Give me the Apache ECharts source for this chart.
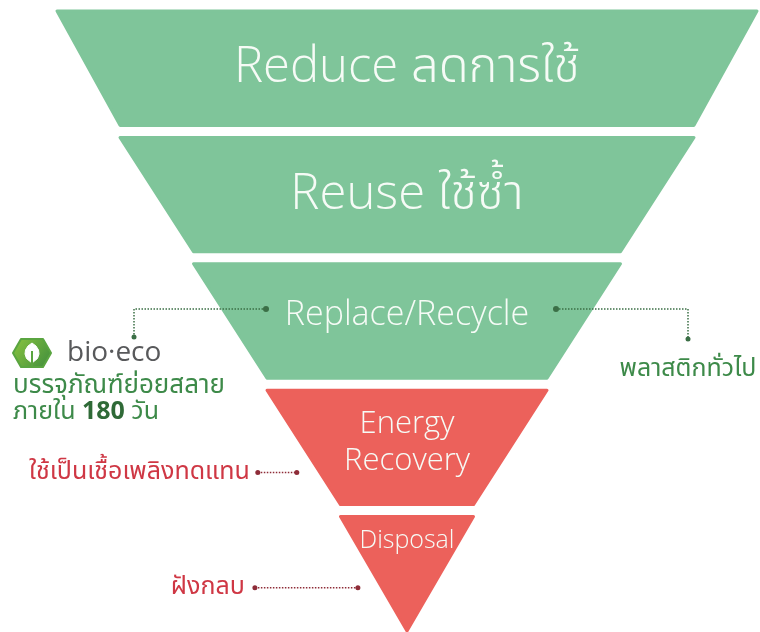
<!DOCTYPE html>
<html>
<head>
<meta charset="utf-8">
<script src="https://cdn.jsdelivr.net/npm/echarts@6/dist/echarts.min.js"></script>
<style>
  html, body { margin: 0; padding: 0; background: #ffffff; }
  #chart { width: 760px; height: 632px; }
</style>
</head>
<body>
<div id="chart"></div>
<script>
// ---- Data ----
var stages = ['Reduce ลดการใช้', 'Reuse ใช้ซ้ำ', 'Replace/Recycle', 'Energy\nRecovery', 'Disposal'];
var stageValues = [100, 82, 61, 40, 19];
var stageGroups = ['green', 'green', 'green', 'red', 'red'];
var bioBrand = 'bio·eco';
var bioLine1 = 'บรรจุภัณฑ์ย่อยสลาย';
var bioLine2a = 'ภายใน ';
var bioLine2b = '180';
var bioLine2c = ' วัน';
var plasticNote = 'พลาสติกทั่วไป';
var energyNote = 'ใช้เป็นเชื้อเพลิงทดแทน';
var disposalNote = 'ฝังกลบ';

// ---- Styles ----
var FONT = "'Open Sans', 'Noto Sans', 'Noto Sans Thai', 'Loma', 'Garuda', sans-serif";
var GREEN = '#7fc59a';
var RED = '#ec615b';
var labelSizes = [49, 49, 34, 31, 25];
var labelLH = [60, 60, 42, 37, 30];
var labelShift = [0, 0, 6, 5, 33];

var chart = echarts.init(document.getElementById('chart'), null, { renderer: 'canvas' });

var data = stages.map(function (name, i) {
  var col = stageGroups[i] === 'green' ? GREEN : RED;
  var lines = name.split('\n').map(function (s) { return '{t|' + s + '}'; }).join('\n');
  return {
    name: name,
    value: stageValues[i],
    itemStyle: { color: col, borderColor: col, borderWidth: 3, borderJoin: 'round' },
    label: {
      formatter: labelShift[i] ? lines + '\n{s| }' : lines,
      rich: {
        t: { fontSize: labelSizes[i], lineHeight: labelLH[i], color: '#f6fbf6', fontFamily: FONT, fontWeight: 300 },
        s: { fontSize: 2, height: labelShift[i] * 2, lineHeight: labelShift[i] * 2 }
      }
    }
  };
});

chart.setOption({
  backgroundColor: '#ffffff',
  animation: false,
  series: [{
    type: 'funnel',
    left: 57,
    top: 11,
    width: 700,
    height: 620,
    min: 0,
    max: 100,
    minSize: '0%',
    maxSize: '100%',
    sort: 'none',
    gap: 12,
    label: {
      show: true,
      position: 'inside',
      color: '#f6fbf6',
      fontFamily: FONT
    },
    labelLine: { show: false },
    emphasis: { disabled: true },
    data: data
  }]
});

// ---- Annotations derived from the funnel layout ----
var sData = chart.getModel().getSeriesByIndex(0).getData();
function pts(i) { return sData.getItemLayout(i).points; }
function leftEdgeX(i, y) {
  var p = pts(i); var a = p[0], b = p[3];
  return a[0] + (b[0] - a[0]) * (y - a[1]) / (b[1] - a[1]);
}
function midY(i) { var p = pts(i); return (p[0][1] + p[3][1]) / 2; }

var DG = '#3b6f46', DR = '#8e2c38';
var TG = '#3d8a49', TR = '#cf3744';
var g = [];

function dotted(x1, y1, x2, y2, col) {
  return { type: 'line', z: 10, shape: { x1: x1, y1: y1, x2: x2, y2: y2 },
           style: { stroke: col, lineWidth: 1.5, lineDash: [1.5, 1.5] }, silent: true };
}
function dot(x, y, col, r) {
  return { type: 'circle', z: 10, shape: { cx: x, cy: y, r: r || 3 }, style: { fill: col }, silent: true };
}

// Replace/Recycle connectors
var p3 = pts(2);
var cx = (p3[0][0] + p3[1][0]) / 2;
var ly = midY(2) - 12;
var lDot = cx - 141, lCorner = cx - 273;
var rDot = cx + 149, rCorner = cx + 281;
g.push(dotted(lDot, ly, lCorner, ly, DG));
g.push(dotted(lCorner, ly, lCorner, ly + 28, DG));
g.push(dot(lDot, ly, DG)); g.push(dot(lCorner, ly + 28, DG, 2.5));
g.push(dotted(rDot, ly, rCorner, ly, DG));
g.push(dotted(rCorner, ly, rCorner, ly + 30, DG));
g.push(dot(rDot, ly, DG)); g.push(dot(rCorner, ly + 30, DG, 2.5));

// bio-eco logo
var logoX = lCorner - 121, logoY = ly + 30;
g.push({
  type: 'group', x: logoX, y: logoY, silent: true, z: 10,
  children: [
    { type: 'polygon', z: 10, shape: { points: [[8,0],[30,0],[38,14],[30,28],[8,28],[0,14]] },
      style: { fill: new echarts.graphic.LinearGradient(0, 0, 1, 1, [
        { offset: 0, color: '#8cc63f' }, { offset: 1, color: '#3d8b3d' }]),
        stroke: '#5aa540', lineWidth: 2, lineJoin: 'round' } },
    { type: 'polygon', z: 11, shape: { points: [[19,4],[23,7],[25.5,11],[26,15],[24.5,19.5],[19,24],[13.5,19.5],[12,15],[12.5,11],[15,7]] },
      style: { fill: '#ffffff', stroke: '#ffffff', lineWidth: 1, lineJoin: 'round' } },
    { type: 'line', z: 12, shape: { x1: 19, y1: 12, x2: 19, y2: 28 },
      style: { stroke: '#5aa540', lineWidth: 2 } }
  ]
});
g.push({ type: 'text', z: 10, x: logoX + 54, y: logoY + 14, silent: true,
  style: { text: bioBrand, font: '28px ' + FONT, fill: '#58595b', verticalAlign: 'middle' } });
g.push({ type: 'text', z: 10, x: logoX, y: logoY + 47, silent: true,
  style: { text: bioLine1, font: '26px ' + FONT, fill: TG, verticalAlign: 'middle' } });
g.push({ type: 'text', z: 10, x: logoX, y: logoY + 73, silent: true,
  style: { text: '{a|' + bioLine2a + '}{b|' + bioLine2b + '}{a|' + bioLine2c + '}', verticalAlign: 'middle',
    rich: { a: { fontSize: 25, fontFamily: FONT, fill: TG, color: TG },
            b: { fontSize: 25, fontWeight: 'bold', fontFamily: FONT, fill: '#2f6a37', color: '#2f6a37' } } } });
g.push({ type: 'text', z: 10, x: rCorner, y: ly + 60, silent: true,
  style: { text: plasticNote, font: '25px ' + FONT, fill: TG, align: 'center', verticalAlign: 'middle' } });

// Energy Recovery connector
var ey = midY(3) + 25;
var eR = leftEdgeX(3, ey) - 23, eL = eR - 39;
g.push(dotted(eL, ey, eR, ey, DR));
g.push(dot(eL, ey, DR, 2.5)); g.push(dot(eR, ey, DR, 2.5));
g.push({ type: 'text', z: 10, x: eL - 8, y: ey - 1, silent: true,
  style: { text: energyNote, font: '25px ' + FONT, fill: TR, align: 'right', verticalAlign: 'middle' } });

// Disposal connector
var dy = midY(4) + 14;
var dR = leftEdgeX(4, dy) - 24, dL = dR - 103;
g.push(dotted(dL, dy, dR, dy, DR));
g.push(dot(dL, dy, DR, 2.5)); g.push(dot(dR, dy, DR, 2.5));
g.push({ type: 'text', z: 10, x: dL - 10, y: dy - 1, silent: true,
  style: { text: disposalNote, font: '25px ' + FONT, fill: TR, align: 'right', verticalAlign: 'middle' } });

chart.setOption({ graphic: { elements: g } });
</script>
</body>
</html>
